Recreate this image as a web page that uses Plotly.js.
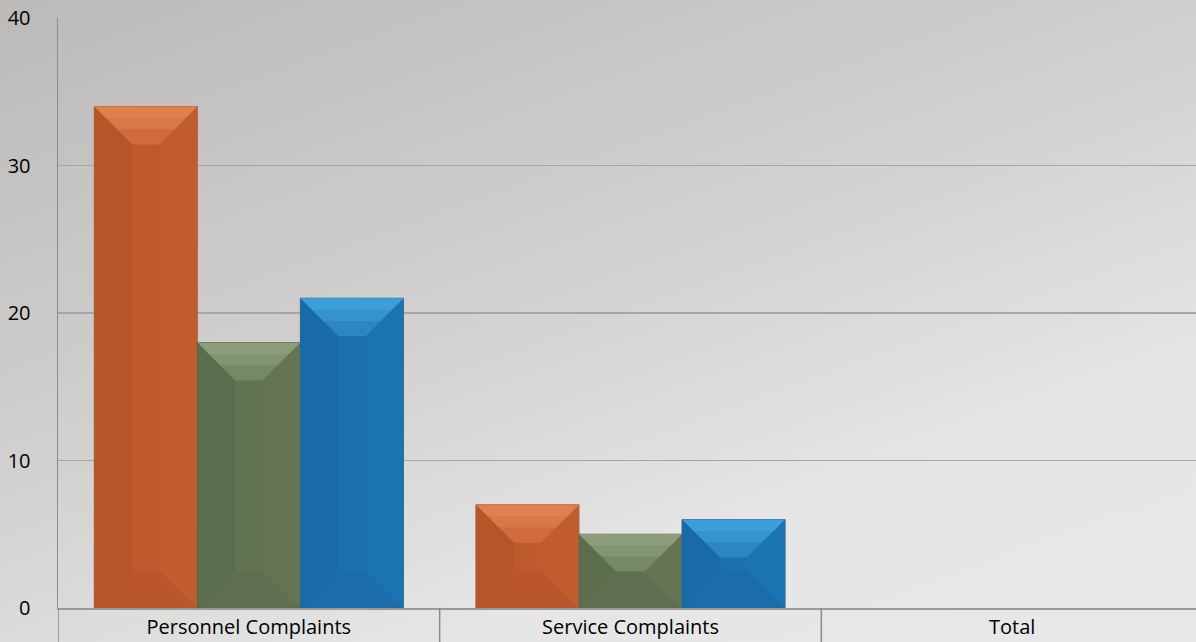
<!DOCTYPE html>
<html>
<head>
<meta charset="utf-8">
<script src="https://cdn.plot.ly/plotly-3.0.1.min.js"></script>
<style>
  html, body { margin:0; padding:0; width:1196px; height:642px; overflow:hidden; }
  #chart { width:1203px; height:642px; background: linear-gradient(160deg, #bcbab8 0%, #d2d1d0 45%, #e6e6e6 75%, #e8e8e8 100%); }
</style>
</head>
<body>
<div id="chart"></div>
<script>
const categories = ["Personnel Complaints", "Service Complaints", "Total"];
const seriesNames = ["Series 1", "Series 2", "Series 3"];
const series1 = [34, 7, null];
const series2 = [18, 5, null];
const series3 = [21, 6, null];
const yTicks = [0, 10, 20, 30, 40];

const allSeries = [series1, series2, series3];
const baseColors = ["#bf5a2c", "#627352", "#1b71ae"];
const lightColors = ["#f89765", "#a9bb93", "#52baf5"];
const darkColors = ["#8f3f1c", "#45533a", "#0f5387"];
const lineColors = ["#b0603a", "#5c6c4f", "#2a6c9c"];

const W = 1203, H = 642, ML = 58, MR = 0, MT = 18, MB = 34;
const bargap = 0.19;
const pxPerX = (W - ML - MR) / categories.length;
const pxPerY = (H - MT - MB) / 40;

const traces = allSeries.map((vals, i) => ({
  type: 'bar',
  name: seriesNames[i],
  x: categories,
  y: vals,
  marker: { color: baseColors[i], line: { color: lineColors[i], width: 1 } },
  hoverinfo: 'x+y'
}));

const shapes = [];
const bw = (1 - bargap) / allSeries.length;
allSeries.forEach((vals, i) => {
  vals.forEach((v, c) => {
    if (v === null || v === undefined) return;
    const xc = c - (1 - bargap) / 2 + (i + 0.5) * bw;
    const x0 = xc - bw / 2, x1 = xc + bw / 2;
    const wpx = bw * pxPerX, hpx = v * pxPerY;
    const d = Math.min(38, wpx / 2, hpx / 2);
    const dx = d / pxPerX, dy = d / pxPerY;
    const poly = (pts, color, op) => shapes.push({
      type: 'path', xref: 'x', yref: 'y', layer: 'above',
      path: 'M' + pts.map(p => p[0] + ',' + p[1]).join(' L') + ' Z',
      fillcolor: color, opacity: op, line: { width: 0 }
    });
    // top face: graded light bands
    poly([[x0, v], [x1, v], [x1 - dx, v - dy], [x0 + dx, v - dy]], lightColors[i], 0.3);
    [0.6, 0.3].forEach(f => {
      const dd = d * f, ddx = dd / pxPerX, ddy = dd / pxPerY;
      poly([[x0, v], [x1, v], [x1 - ddx, v - ddy], [x0 + ddx, v - ddy]], lightColors[i], 0.25);
    });
    // left face
    poly([[x0, v], [x0 + dx, v - dy], [x0 + dx, dy], [x0, 0]], darkColors[i], 0.2);
    // bottom face
    poly([[x0, 0], [x0 + dx, dy], [x1 - dx, dy], [x1, 0]], darkColors[i], 0.1);
    // right face
    poly([[x1, v], [x1 - dx, v - dy], [x1 - dx, dy], [x1, 0]], lightColors[i], 0.04);
  });
});

// category separators below the axis
for (let k = 0; k <= categories.length; k++) {
  shapes.push({
    type: 'line', xref: 'x', yref: 'paper', layer: 'above',
    x0: k - 0.5, x1: k - 0.5, y0: 0, y1: -MB / (H - MT - MB),
    line: { color: '#8a8a8a', width: 1.5 }
  });
}

const layout = {
  width: W, height: H,
  margin: { l: ML, r: MR, t: MT, b: MB, pad: 0 },
  paper_bgcolor: 'rgba(0,0,0,0)',
  plot_bgcolor: 'rgba(0,0,0,0)',
  barmode: 'group',
  bargap: bargap,
  bargroupgap: 0,
  showlegend: false,
  font: { family: '"Open Sans", sans-serif', size: 20, color: '#000' },
  xaxis: {
    type: 'category',
    range: [-0.5, 2.5],
    showgrid: false,
    ticks: '',
    showline: true, linecolor: '#999999', linewidth: 1.5,
    tickfont: { family: '"Open Sans", sans-serif', size: 20, color: '#000' },
    ticklabelstandoff: 0,
    fixedrange: true
  },
  yaxis: {
    range: [0, 40],
    tickvals: yTicks,
    ticktext: yTicks.map(String),
    showgrid: true, gridcolor: '#a6a6a6', gridwidth: 1.2,
    zeroline: false,
    showline: true, linecolor: '#8c8c8c', linewidth: 1.5,
    ticks: '',
    ticklabelstandoff: 22,
    tickfont: { family: '"Open Sans", sans-serif', size: 20, color: '#000' },
    fixedrange: true
  },
  shapes: shapes
};

Plotly.newPlot('chart', traces, layout, { displayModeBar: false, staticPlot: true });
</script>
</body>
</html>
